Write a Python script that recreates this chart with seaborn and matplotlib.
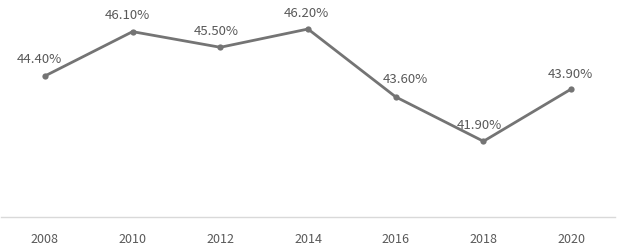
import matplotlib
matplotlib.use("Agg")
import matplotlib.pyplot as plt
import seaborn as sns
import pandas as pd

years = ["2008", "2010", "2012", "2014", "2016", "2018", "2020"]
rates = [44.4, 46.1, 45.5, 46.2, 43.6, 41.9, 43.9]
labels = ["44.40%", "46.10%", "45.50%", "46.20%", "43.60%", "41.90%", "43.90%"]

# label nudges in pixels (x, y), as placed in the original
nudges = [(-5, 18), (-5, 17), (-4, 17), (-2, 17), (10, 18), (-4, 17), (-1, 16)]

sns.set_theme(style="white")
plt.rcParams["font.family"] = ["Noto Sans CJK SC", "DejaVu Sans"]

df = pd.DataFrame({"year": years, "rate": rates})

fig = plt.figure(figsize=(6.2, 2.51), dpi=100)
ax = fig.add_axes([1 / 620, 33 / 251, 614 / 620, 218 / 251])
sns.lineplot(data=df, x="year", y="rate", ax=ax, color="#747474", linewidth=2,
             marker="o", markersize=4.5, markeredgewidth=0, sort=False)

for i, (v, t) in enumerate(zip(rates, labels)):
    ax.annotate(t, (i, v), xytext=nudges[i], textcoords="offset pixels",
                ha="center", va="center", fontsize=9.5, color="#595959")

ax.set_xlim(-0.5, len(years) - 0.5)
ax.set_ylim(39, 47.35)
ax.set_xlabel("")
ax.set_ylabel("")
ax.set_yticks([])
for s in ["top", "left", "right"]:
    ax.spines[s].set_visible(False)
ax.spines["bottom"].set_color("#d9d9d9")
ax.spines["bottom"].set_linewidth(1)
ax.tick_params(axis="x", length=0, pad=11, labelsize=9, labelcolor="#595959")

fig.savefig("out.png", dpi=100)
